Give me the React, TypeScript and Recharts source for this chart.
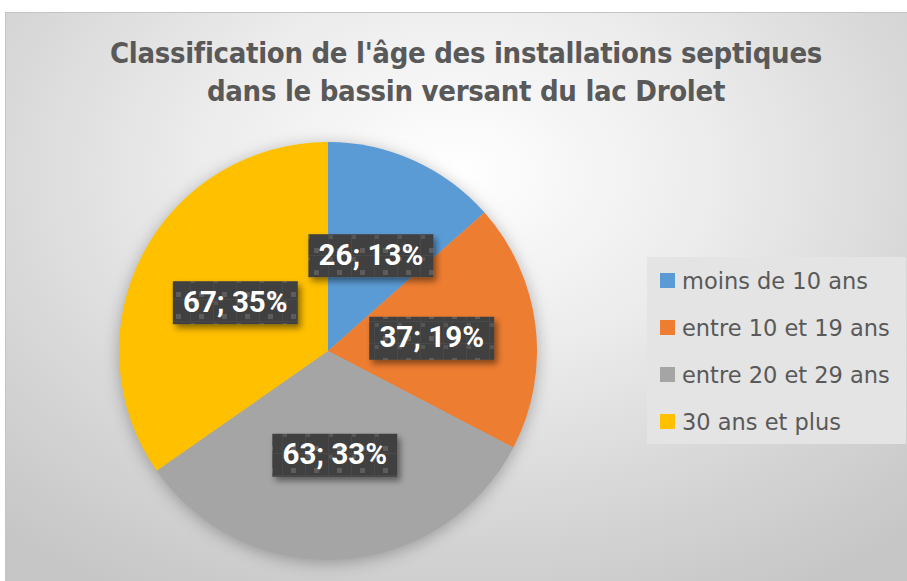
import { Cell, Legend, Pie, PieChart } from "recharts";

const categories = [
  "moins de 10 ans",
  "entre 10 et 19 ans",
  "entre 20 et 29 ans",
  "30 ans et plus",
];
const counts = [26, 37, 63, 67];
const colors = ["#5b9bd5", "#ed7d31", "#a5a5a5", "#ffc000"];

const data = categories.map((name, i) => ({ name, value: counts[i] }));

const RADIAN = Math.PI / 180;

// data label: dark patterned box with value; percent
const renderLabel = (props: any) => {
  const { cx, cy, midAngle, outerRadius, value, percent } = props;
  const r = outerRadius * 0.5;
  const x = cx + r * Math.cos(-midAngle * RADIAN);
  const y = cy + r * Math.sin(-midAngle * RADIAN);
  const w = 125;
  const h = 43;
  return (
    <g>
      <rect
        x={x - w / 2}
        y={y - h / 2}
        width={w}
        height={h}
        fill="url(#lblPattern)"
        filter="url(#lblShadow)"
      />
      <text
        x={x}
        y={y + 1}
        textAnchor="middle"
        dominantBaseline="middle"
        fill="#ffffff"
        fontFamily="Roboto, sans-serif"
        fontWeight={700}
        fontSize={29.5}
      >
        {`${value}; ${Math.round(percent * 100)}%`}
      </text>
    </g>
  );
};

// keep legend in data order (recharts sorts by default)
const renderLegend = (props: any) => {
  const payload = [...(props.payload || [])].sort(
    (a: any, b: any) => categories.indexOf(a.value) - categories.indexOf(b.value)
  );
  return (
    <div
      style={{
        background: "#e4e4e4",
        width: 259,
        height: 187,
        boxSizing: "border-box",
        padding: "0 0 0 13px",
      }}
    >
      {payload.map((entry: any, i: number) => (
        <div
          key={`leg-${i}`}
          style={{
            display: "flex",
            alignItems: "center",
            height: 47,
            fontFamily: "'DejaVu Sans', sans-serif",
            fontSize: 22.5,
            color: "#595959",
            whiteSpace: "nowrap",
          }}
        >
          <span
            style={{
              display: "inline-block",
              width: 15,
              height: 15,
              background: entry.color,
              marginRight: 7,
            }}
          />
          {entry.value}
        </div>
      ))}
    </div>
  );
};

export default function App() {
  return (
    <div
      style={{
        position: "fixed",
        left: 0,
        top: 0,
        width: 907,
        height: 581,
        background: "#ffffff",
        overflow: "hidden",
      }}
    >
      <style>{`.recharts-pie { filter: drop-shadow(0 3px 8px rgba(0,0,0,0.28)); }`}</style>
      <div
        style={{
          position: "absolute",
          left: 5,
          top: 12,
          width: 902,
          height: 569,
          borderTop: "1px solid #c4c4c4",
          borderLeft: "1px solid #c4c4c4",
          boxSizing: "border-box",
          background:
            "radial-gradient(ellipse 75% 85% at 50% 28%, #ffffff 0%, #ececec 38%, #d6d6d6 72%, #c6c6c6 100%)",
        }}
      >
        <div
          style={{
            position: "absolute",
            left: 9,
            top: 21,
            width: 902,
            textAlign: "center",
            fontFamily: "'DejaVu Sans Condensed', sans-serif",
            fontWeight: 700,
            fontSize: 29,
            letterSpacing: -0.3,
            lineHeight: "38px",
            color: "#595959",
          }}
        >
          Classification de l'âge des installations septiques
          <br />
          dans le bassin versant du lac Drolet
        </div>
        <PieChart width={902} height={569} style={{ position: "absolute", left: 0, top: 0 }}>
          <defs>
            <pattern id="lblPattern" width={23} height={22} patternUnits="userSpaceOnUse">
              <rect width={23} height={22} fill="#404040" />
              <rect x={0} y={0} width={1} height={22} fill="#4a4a4a" />
              <rect x={0} y={0} width={23} height={1} fill="#4a4a4a" />
              <rect x={9} y={15} width={5} height={5} fill="#5c5c5c" />
              <rect x={1} y={2} width={4} height={4} fill="#545454" />
            </pattern>
            <filter id="lblShadow" x="-20%" y="-30%" width="150%" height="180%">
              <feDropShadow dx={3} dy={4} stdDeviation={3} floodColor="#000" floodOpacity={0.45} />
            </filter>
          </defs>
          <Pie
            data={data}
            dataKey="value"
            nameKey="name"
            cx={317}
            cy={333}
            outerRadius={209}
            startAngle={90}
            endAngle={-270}
            stroke="none"
            label={renderLabel}
            labelLine={false}
            isAnimationActive={false}
          >
            {data.map((d, i) => (
              <Cell key={`c-${d.name}`} fill={colors[i]} />
            ))}
          </Pie>
          <Legend
            layout="vertical"
            verticalAlign="top"
            align="right"
            content={renderLegend}
            wrapperStyle={{ left: 641, top: 244, width: 259 }}
          />
        </PieChart>
      </div>
    </div>
  );
}
